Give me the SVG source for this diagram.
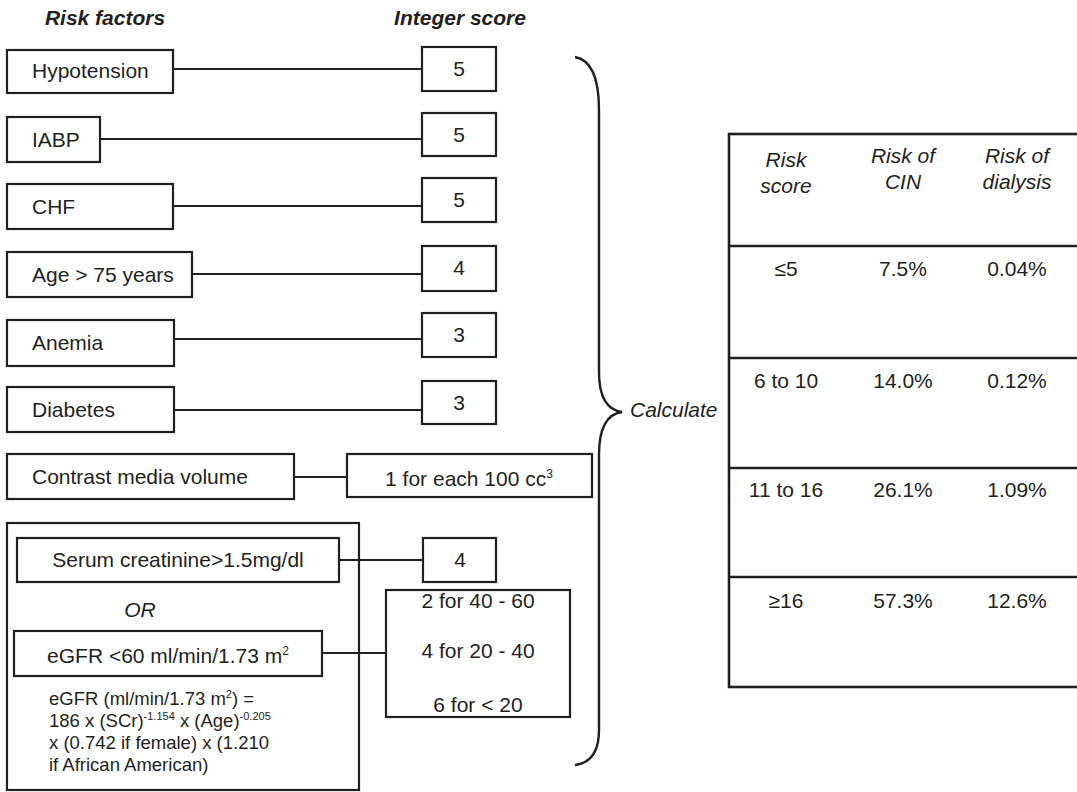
<svg xmlns="http://www.w3.org/2000/svg" width="1077" height="792" viewBox="0 0 1077 792">
<style>
text { font-family: "Liberation Sans", Arial, Helvetica, sans-serif; fill: #231f20; }
.box { fill: #fff; stroke: #231f20; stroke-width: 2.2; }
.lbl { font-size: 21px; }
.mid { text-anchor: middle; }
.hdr { font-size: 21px; font-weight: bold; font-style: italic; }
.it { font-style: italic; }
.conn { stroke: #231f20; stroke-width: 2.2; fill: none; }
.tbl { stroke: #231f20; stroke-width: 2.6; fill: none; }
.brace { stroke: #231f20; stroke-width: 2.4; fill: none; }
.formula { font-size: 18.5px; }
.sup { font-size: 12px; }
.fsup { font-size: 11px; }
</style>
<rect width="1077" height="792" fill="#fff"/>

<g id="headers">
  <text class="hdr mid" x="105" y="25">Risk factors</text>
  <text class="hdr mid" x="460" y="25">Integer score</text>
</g>

<g id="connectors">
  <line class="conn" x1="173" y1="69" x2="422" y2="69"/>
  <line class="conn" x1="100" y1="139" x2="422" y2="139"/>
  <line class="conn" x1="173" y1="206" x2="422" y2="206"/>
  <line class="conn" x1="192" y1="274" x2="422" y2="274"/>
  <line class="conn" x1="174" y1="339" x2="422" y2="339"/>
  <line class="conn" x1="174" y1="410" x2="422" y2="410"/>
  <line class="conn" x1="294" y1="477" x2="347" y2="477"/>
  <line class="conn" x1="339" y1="560" x2="423" y2="560"/>
  <line class="conn" x1="322" y1="653" x2="386" y2="653"/>
</g>

<g id="hypotension">
  <rect class="box" x="7" y="50" width="166" height="43"/>
  <text class="lbl" x="32" y="78">Hypotension</text>
</g>
<g id="score-hypotension">
  <rect class="box" x="422" y="47" width="74" height="44"/>
  <text class="lbl mid" x="459" y="76">5</text>
</g>

<g id="iabp">
  <rect class="box" x="7" y="117" width="93" height="45"/>
  <text class="lbl" x="32" y="147">IABP</text>
</g>
<g id="score-iabp">
  <rect class="box" x="422" y="113" width="74" height="43"/>
  <text class="lbl mid" x="459" y="142">5</text>
</g>

<g id="chf">
  <rect class="box" x="7" y="184" width="166" height="45"/>
  <text class="lbl" x="32" y="214">CHF</text>
</g>
<g id="score-chf">
  <rect class="box" x="422" y="178" width="74" height="44"/>
  <text class="lbl mid" x="459" y="207">5</text>
</g>

<g id="age">
  <rect class="box" x="7" y="252" width="185" height="45"/>
  <text class="lbl" x="32" y="282">Age &gt; 75 years</text>
</g>
<g id="score-age">
  <rect class="box" x="422" y="246" width="74" height="45"/>
  <text class="lbl mid" x="459" y="275">4</text>
</g>

<g id="anemia">
  <rect class="box" x="7" y="320" width="167" height="46"/>
  <text class="lbl" x="32" y="350">Anemia</text>
</g>
<g id="score-anemia">
  <rect class="box" x="422" y="313" width="74" height="44"/>
  <text class="lbl mid" x="459" y="342">3</text>
</g>

<g id="diabetes">
  <rect class="box" x="7" y="387" width="167" height="45"/>
  <text class="lbl" x="32" y="417">Diabetes</text>
</g>
<g id="score-diabetes">
  <rect class="box" x="422" y="381" width="74" height="43"/>
  <text class="lbl mid" x="459" y="410">3</text>
</g>

<g id="contrast">
  <rect class="box" x="7" y="454" width="287" height="45"/>
  <text class="lbl" x="32" y="484">Contrast media volume</text>
</g>
<g id="score-contrast">
  <rect class="box" x="347" y="454" width="245" height="43"/>
  <text class="lbl mid" x="469" y="486">1 for each 100 cc<tspan class="sup" dy="-8">3</tspan></text>
</g>

<g id="renal-group">
  <rect class="box" x="7" y="523" width="352" height="267" fill="none" style="fill:none"/>
</g>
<g id="serum">
  <rect class="box" x="17" y="538" width="322" height="44"/>
  <text class="lbl mid" x="178" y="567">Serum creatinine&gt;1.5mg/dl</text>
</g>
<g id="or-label">
  <text class="lbl it mid" x="140" y="617">OR</text>
</g>
<g id="egfr">
  <rect class="box" x="14" y="631" width="308" height="45"/>
  <text class="lbl mid" x="168" y="663">eGFR &lt;60 ml/min/1.73 m<tspan class="sup" dy="-8">2</tspan></text>
</g>
<g id="formula">
  <text class="formula" x="49" y="705">eGFR (ml/min/1.73 m<tspan class="fsup" dy="-7">2</tspan><tspan dy="7">) =</tspan></text>
  <text class="formula" x="49" y="727">186 x (SCr)<tspan class="fsup" dy="-7">-1.154</tspan><tspan dy="7"> x (Age)</tspan><tspan class="fsup" dy="-7">-0.205</tspan></text>
  <text class="formula" x="49" y="749">x (0.742 if female) x (1.210</text>
  <text class="formula" x="49" y="771">if African American)</text>
</g>
<g id="score-serum">
  <rect class="box" x="423" y="538" width="73" height="44"/>
  <text class="lbl mid" x="460" y="567">4</text>
</g>
<g id="score-egfr">
  <rect class="box" x="386" y="590" width="184" height="127"/>
  <text class="lbl mid" x="478" y="608">2 for 40 - 60</text>
  <text class="lbl mid" x="478" y="658">4 for 20 - 40</text>
  <text class="lbl mid" x="478" y="712">6 for &lt; 20</text>
</g>

<g id="calculate">
  <path class="brace" d="M 575 57 C 592 60, 599 80, 599 110 L 599 372 C 599 398, 607 410, 622 412 C 607 414, 599 428, 599 455 L 599 730 C 599 752, 591 763, 575 765"/>
  <text class="lbl it" x="630" y="417">Calculate</text>
</g>

<g id="risk-table">
  <rect class="tbl" x="729" y="134" width="360" height="553"/>
  <line class="tbl" x1="729" y1="246" x2="1077" y2="246"/>
  <line class="tbl" x1="729" y1="358" x2="1077" y2="358"/>
  <line class="tbl" x1="729" y1="468" x2="1077" y2="468"/>
  <line class="tbl" x1="729" y1="577" x2="1077" y2="577"/>
  <text class="lbl it mid" x="786" y="167">Risk</text>
  <text class="lbl it mid" x="786" y="193">score</text>
  <text class="lbl it mid" x="903" y="163">Risk of</text>
  <text class="lbl it mid" x="903" y="189">CIN</text>
  <text class="lbl it mid" x="1017" y="163">Risk of</text>
  <text class="lbl it mid" x="1017" y="189">dialysis</text>
  <text class="lbl mid" x="786" y="276">≤5</text>
  <text class="lbl mid" x="903" y="276">7.5%</text>
  <text class="lbl mid" x="1017" y="276">0.04%</text>
  <text class="lbl mid" x="786" y="388">6 to 10</text>
  <text class="lbl mid" x="903" y="388">14.0%</text>
  <text class="lbl mid" x="1017" y="388">0.12%</text>
  <text class="lbl mid" x="786" y="497">11 to 16</text>
  <text class="lbl mid" x="903" y="497">26.1%</text>
  <text class="lbl mid" x="1017" y="497">1.09%</text>
  <text class="lbl mid" x="786" y="608">≥16</text>
  <text class="lbl mid" x="903" y="608">57.3%</text>
  <text class="lbl mid" x="1017" y="608">12.6%</text>
</g>
</svg>
